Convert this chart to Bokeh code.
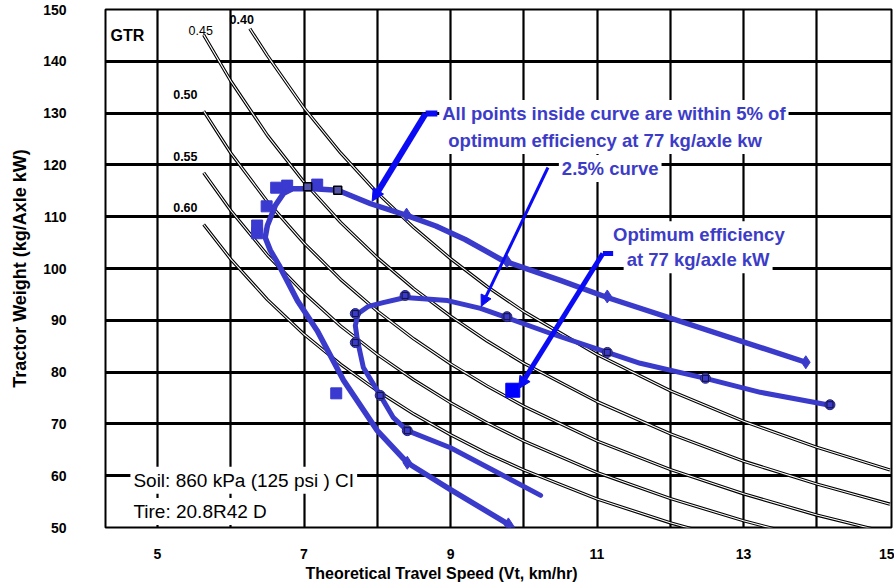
from bokeh.plotting import figure
from bokeh.models import Range1d, FixedTicker, Label, Arrow, NormalHead, Title
from bokeh.embed import file_html
from bokeh.resources import INLINE

# ---------------- data ----------------
x_ticks = [5, 7, 9, 11, 13, 15]
y_ticks = [50, 60, 70, 80, 90, 100, 110, 120, 130, 140, 150]
x_grid = [5, 6, 7, 8, 9, 10, 11, 12, 13, 14]
y_grid = [50, 60, 70, 80, 90, 100, 110, 120, 130, 140, 150]

# constant-ratio reference curves (speed km/h, weight kg/axle kW)
c040_v = [6.26, 6.5, 7.0, 7.5, 8.0, 8.5, 9.0, 9.5, 10.0, 11.0, 12.0, 13.0, 14.0, 15.0]
c040_w = [146.3, 141.1, 131.0, 122.3, 114.6, 107.9, 101.9, 96.5, 91.7, 83.4, 76.4, 70.5, 65.5, 61.1]
c045_v = [5.63, 6.0, 6.5, 7.0, 7.5, 8.0, 8.5, 9.0, 9.5, 10.0, 11.0, 12.0, 13.0, 14.0, 15.0]
c045_w = [145.1, 136.2, 125.7, 116.7, 108.9, 102.1, 96.1, 90.8, 86.0, 81.7, 74.3, 68.1, 62.8, 58.4, 54.5]
c050_v = [5.63, 6.0, 6.5, 7.0, 7.5, 8.0, 8.5, 9.0, 9.5, 10.0, 11.0, 12.0, 13.0, 14.0, 15.0]
c050_w = [130.4, 122.3, 112.9, 104.9, 97.9, 91.8, 86.4, 81.6, 77.3, 73.4, 66.7, 61.2, 56.5, 52.4, 48.9]
c055_v = [5.63, 6.0, 6.5, 7.0, 7.5, 8.0, 8.5, 9.0, 9.5, 10.0, 11.0, 12.0, 13.0, 14.0]
c055_w = [118.5, 111.2, 102.6, 95.3, 88.9, 83.4, 78.5, 74.1, 70.2, 66.7, 60.6, 55.6, 51.3, 47.6]
c060_v = [5.63, 6.0, 6.5, 7.0, 7.5, 8.0, 8.5, 9.0, 9.5, 10.0, 11.0, 12.0, 13.0]
c060_w = [108.5, 101.8, 94.0, 87.3, 81.5, 76.4, 71.9, 67.9, 64.3, 61.1, 55.5, 50.9, 47.0]
ratio_labels = ["0.40", "0.45", "0.50", "0.55", "0.60"]
ratio_label_v = [6.15, 5.59, 5.38, 5.38, 5.38]
ratio_label_w = [148.1, 145.9, 133.6, 121.6, 111.8]

# 5 % curve (outer)
outer_v = [13.85, 11.14, 10.50, 9.72, 9.20, 8.80, 8.41, 7.91, 7.46, 7.13, 6.84, 6.72, 6.61, 6.50,
           6.47, 6.54, 6.66, 6.91, 7.18, 7.54, 8.00, 8.41, 9.00, 9.77, 9.84]
outer_w = [81.9, 94.4, 97.7, 101.5, 105.6, 108.2, 110.2, 112.5, 115.1, 115.4, 115.4, 114.5, 112.2, 108.3,
           106.0, 103.5, 100.6, 93.8, 88.0, 78.4, 68.7, 62.5, 57.3, 50.8, 50.0]
outer_mark_v = [8.40, 9.77, 11.14, 13.85, 8.41, 9.79]
outer_mark_w = [110.4, 101.4, 94.6, 81.9, 62.5, 50.6]

# 2.5 % curve (inner)
inner_v = [14.18, 13.23, 12.48, 11.59, 11.14, 10.36, 9.77, 9.41, 8.96, 8.38, 8.08, 7.88, 7.74,
           7.70, 7.73, 7.81, 8.04, 8.22, 8.41, 9.00, 10.23]
inner_w = [73.6, 76.1, 78.8, 81.7, 83.8, 87.5, 90.5, 92.3, 93.8, 94.4, 93.4, 92.7, 91.3,
           89.0, 86.1, 80.9, 75.5, 71.2, 68.7, 65.4, 56.2]
inner_mark_v = [7.70, 7.70, 8.04, 8.41, 8.38, 9.77, 11.14, 12.48, 14.18]
inner_mark_w = [91.3, 85.7, 75.5, 68.7, 94.8, 90.7, 83.8, 78.8, 73.7]

# test points (squares)
sq_v = [6.36, 6.36, 6.49, 6.62, 6.77, 7.18, 7.44]
sq_w = [106.8, 108.3, 112.0, 115.6, 116.0, 116.2, 75.9]
dark_v = [7.05, 7.46]
dark_w = [115.8, 115.1]
opt_v = [9.85]
opt_w = [76.5]

# leader lines
lead1_v = [8.82, 8.66, 7.93]
lead1_w = [129.9, 129.9, 113.0]
lead2_v = [10.33, 9.42]
lead2_w = [119.5, 92.7]
lead3_v = [11.22, 11.08, 9.93]
lead3_w = [102.9, 102.9, 76.8]

BLUE = "#3a3acb"
TEXT_BLUE = "#3c3cc8"
ARROW = "#0a0af5"
FONT = "Liberation Sans"

p = figure(width=894, height=583, x_range=Range1d(4.29, 15.02), y_range=Range1d(50, 150),
           output_backend="svg", toolbar_location=None,
           min_border_left=105, min_border_right=3, min_border_top=9, min_border_bottom=56)
p.background_fill_color = "white"
p.border_fill_color = "white"
p.outline_line_color = "black"
p.outline_line_width = 2

# grid
p.xgrid.ticker = FixedTicker(ticks=x_grid)
p.ygrid.ticker = FixedTicker(ticks=y_grid)
p.xgrid.grid_line_color = "black"
p.xgrid.grid_line_width = 2.2
p.ygrid.grid_line_color = "black"
p.ygrid.grid_line_width = 3.2

# axes
for ax in (p.xaxis[0], p.yaxis[0]):
    ax.axis_line_color = None
    ax.major_tick_line_color = None
    ax.minor_tick_line_color = None
    ax.major_label_text_font = FONT
    ax.major_label_text_font_style = "bold"
    ax.major_label_text_font_size = "14px"
    ax.major_label_text_color = "black"
    ax.axis_label_text_font = FONT
    ax.axis_label_text_font_style = "bold"
    ax.axis_label_text_color = "black"
p.xaxis.ticker = FixedTicker(ticks=x_ticks)
p.yaxis.ticker = FixedTicker(ticks=y_ticks)
p.xaxis.major_label_standoff = 15
p.yaxis.major_label_standoff = 33
p.yaxis.axis_label = "Tractor Weight (kg/Axle kW)"
p.yaxis.axis_label_text_font_size = "18px"
p.yaxis.axis_label_standoff = 10

# x-axis title, set left of centre as in the reference
p.add_layout(Title(text="Theoretical Travel Speed (Vt, km/hr)", align="left", offset=200,
                   text_font=FONT, text_font_size="16px", text_font_style="bold",
                   text_color="black", standoff=2), "below")

# reference curves, drawn as double lines
for cv, cw in ((c040_v, c040_w), (c045_v, c045_w), (c050_v, c050_w), (c055_v, c055_w), (c060_v, c060_w)):
    p.line(cv, cw, line_color="black", line_width=3.3)
    p.line(cv, cw, line_color="white", line_width=1.1)

# blue curves
p.line(outer_v, outer_w, line_color=BLUE, line_width=5.5, line_join="round", line_cap="round")
p.line(inner_v, inner_w, line_color=BLUE, line_width=5.0, line_join="round", line_cap="round")
p.scatter(outer_mark_v, outer_mark_w, marker="diamond", size=13, fill_color=BLUE, line_color=BLUE)
p.scatter(inner_mark_v, inner_mark_w, marker="circle", size=10, fill_color=BLUE, line_color="#24247a")
p.scatter(inner_mark_v, inner_mark_w, marker="square", size=6, fill_color=None, line_color="#111133", line_width=1)
p.scatter(sq_v, sq_w, marker="square", size=11, fill_color="#3a3ad0", line_color="#3a3ad0")
p.scatter(dark_v, dark_w, marker="square", size=8, fill_color="#5555aa", line_color="black", line_width=1.5)
p.scatter(opt_v, opt_w, marker="square", size=14, fill_color="#0000ff", line_color="#0000ff")

# texts with white boxes
def lab(x, y, text, size, color="black", style="bold", align="center", **kw):
    l = Label(x=x, y=y, text=text, text_font=FONT, text_font_size=size, text_font_style=style,
              text_color=color, text_align=align, text_baseline="middle", **kw)
    p.add_layout(l)
    return l

box = dict(background_fill_color="white", padding=3)
lab(11.23, 129.9, "All points inside curve are within 5% of", "18.5px", TEXT_BLUE, **box)
lab(11.11, 124.7, "optimum efficiency at 77 kg/axle kw", "18.5px", TEXT_BLUE, **box)
lab(11.18, 119.3, "2.5% curve", "18.5px", TEXT_BLUE, **box)
lab(12.39, 106.5, "Optimum efficiency", "18.5px", TEXT_BLUE, **box)
lab(12.38, 101.7, "at 77 kg/axle kW", "18.5px", TEXT_BLUE, **box)
lab(4.63, 59.1, "Soil: 860 kPa (125 psi ) CI", "19px", "black", "normal", "left", **box)
lab(4.63, 53.1, "Tire: 20.8R42 D", "19px", "black", "normal", "left", **box)
lab(4.59, 145.0, "GTR", "16px")
for t, xv, yw in zip(ratio_labels, ratio_label_v, ratio_label_w):
    lab(xv, yw, t, "12.5px", style="normal" if t == "0.45" else "bold")

# leaders
p.line(lead1_v[:2], lead1_w[:2], line_color=ARROW, line_width=6)
p.add_layout(Arrow(x_start=lead1_v[1], y_start=lead1_w[1], x_end=lead1_v[2], y_end=lead1_w[2],
                   line_color=ARROW, line_width=6,
                   end=NormalHead(size=12, fill_color=ARROW, line_color=ARROW)))
p.add_layout(Arrow(x_start=lead2_v[0], y_start=lead2_w[0], x_end=lead2_v[1], y_end=lead2_w[1],
                   line_color=ARROW, line_width=3,
                   end=NormalHead(size=11, fill_color=ARROW, line_color=ARROW)))
p.line(lead3_v[:2], lead3_w[:2], line_color=ARROW, line_width=5)
p.add_layout(Arrow(x_start=lead3_v[1], y_start=lead3_w[1], x_end=lead3_v[2], y_end=lead3_w[2],
                   line_color=ARROW, line_width=5,
                   end=NormalHead(size=12, fill_color=ARROW, line_color=ARROW)))

open("out.html", "w").write(file_html(p, INLINE))
